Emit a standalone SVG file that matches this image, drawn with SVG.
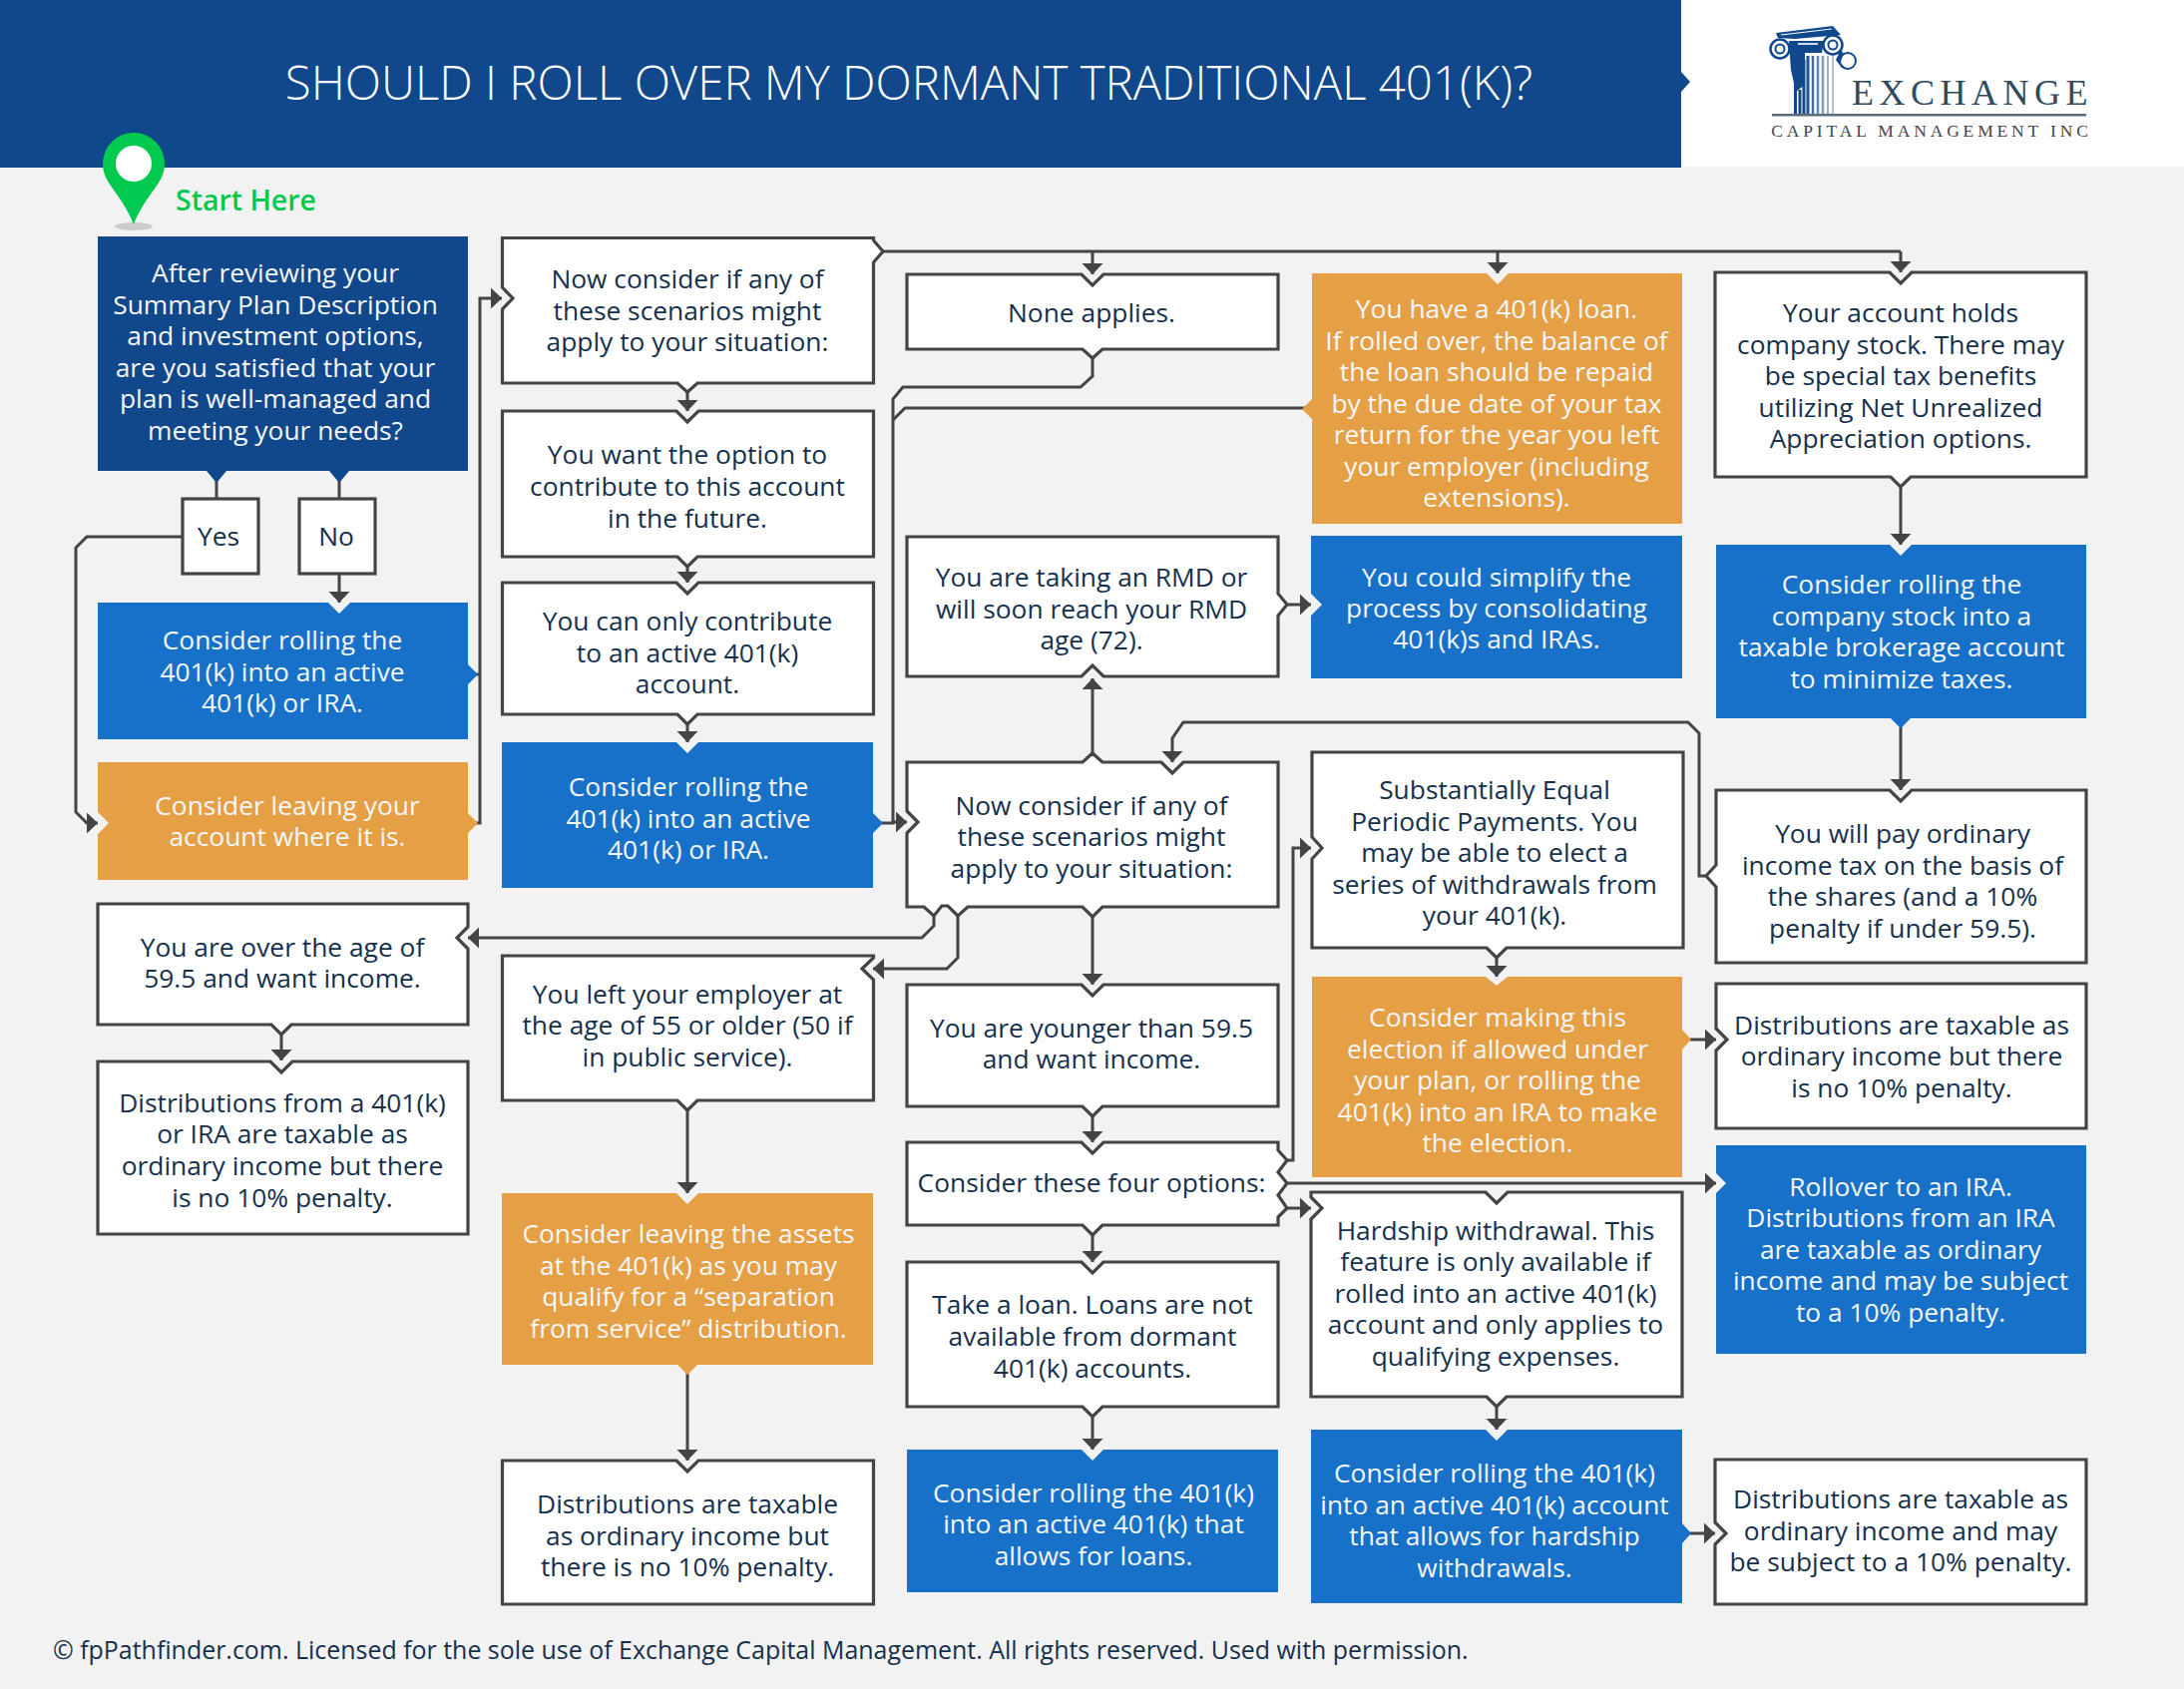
<svg xmlns="http://www.w3.org/2000/svg" width="2189" height="1693" viewBox="0 0 2189 1693">
<style>
text{font-family:"Open Sans","Noto Sans","Liberation Sans",sans-serif;font-size:26.35px;text-anchor:middle;fill:#15304d}
.w{fill:#fff;stroke:#444;stroke-width:3.2}
.b{fill:#1871c9}
.n{fill:#11478b}
.o{fill:#e5a046}
.c{fill:none;stroke:#444;stroke-width:3}
.a{marker-end:url(#ah)}
.t text,text.t{fill:#f5f7fa}
.sc{fill:none;stroke:#11478b}
</style>
<defs>
<marker id="ah" markerUnits="userSpaceOnUse" markerWidth="12" markerHeight="22" refX="11" refY="10.5" orient="auto"><path d="M0 0L11 10.5L0 21Z" fill="#444"/></marker>
</defs>
<rect width="2189" height="1693" fill="#f2f2f2"/>
<g id="header">
<rect x="1685" width="504" height="167" fill="#fff"/>
<path class="n" d="M0 0H1685V72L1694 82L1685 92V168H0Z"/>
<text x="911" y="100" style="font-size:47.4px;font-weight:300;fill:#fff">SHOULD I ROLL OVER MY DORMANT TRADITIONAL 401(K)?</text>
</g>
<g id="logo">
<path class="n" d="M1780 33L1837 26L1845 35L1799 39L1782 38Z"/>
<path d="M1785 35L1836 29" stroke="#fff" stroke-width="1" fill="none"/>
<circle class="sc" cx="1784" cy="49" r="9.500" stroke-width="2.500"/>
<circle class="sc" cx="1784" cy="49" r="4.500" stroke-width="2"/>
<circle class="sc" cx="1837" cy="45" r="9.500" stroke-width="2.500"/>
<circle class="sc" cx="1837" cy="45" r="4.500" stroke-width="2"/>
<circle class="sc" cx="1852" cy="61" r="8" stroke-width="2"/>
<path class="n" d="M1845 50L1848 54L1844 63L1851 69L1846 68L1840 60Z"/>
<path class="n" d="M1793 41H1828L1826 53H1809V85L1800 92L1795 70Z"/>
<path d="M1802 44H1822" stroke="#cfdcec" stroke-width="2" fill="none"/>
<path d="M1799.500 80V114M1804 90V114M1808 60V114" stroke="#11478b" stroke-width="3" fill="none"/>
<path d="M1812 56V114" stroke="#1d528f" stroke-width="3" fill="none"/>
<path d="M1817 56V114" stroke="#3f6ea5" stroke-width="2.500" fill="none"/>
<path d="M1822 56V114" stroke="#6488b3" stroke-width="2.500" fill="none"/>
<path d="M1827 56V114" stroke="#7f9cbe" stroke-width="2.500" fill="none"/>
<path d="M1832 56V114" stroke="#9cb1c9" stroke-width="2" fill="none"/>
<path d="M1837 56V114" stroke="#b4c3d4" stroke-width="2" fill="none"/>
<rect x="1776" y="114" width="315" height="2.500" fill="#5a6d78"/>
<text x="1977" y="105" style="font-family:'Liberation Serif',serif;font-size:36px;letter-spacing:5.5px;fill:#2f4a63">EXCHANGE</text>
<text x="1936" y="137" style="font-family:'Liberation Serif',serif;font-size:17.5px;letter-spacing:3.85px;fill:#3a4650">CAPITAL MANAGEMENT INC</text>
</g>
<g id="start">
<ellipse cx="134" cy="227" rx="19" ry="4" fill="#ccc"/>
<path d="M134 225C121 192 103 185 103 164A31 31 0 0 1 165 164C165 185 147 192 134 225Z" fill="#00c94f"/>
<circle cx="134" cy="164" r="18" fill="#fff"/>
<text x="176" y="211" style="font-size:28.5px;font-weight:600;text-anchor:start;fill:#00c94f">Start Here</text>
</g>
<g id="connectors">
<path class="c" d="M217 482V500"/>
<path class="c" d="M340 482V500"/>
<path class="c a" d="M340 575V604"/>
<path class="c a" d="M183 538H87L76 549V814L87 825H98"/>
<path class="c" d="M476 825H481V676M476 676H481"/>
<path class="c a" d="M481 676V299H503"/>
<path class="c" d="M884 252H1905"/>
<path class="c a" d="M1905 252V273"/>
<path class="c a" d="M1501 252V274"/>
<path class="c a" d="M1095 252V275"/>
<path class="c a" d="M689 392V412"/>
<path class="c a" d="M689 566V584"/>
<path class="c a" d="M689 724V744"/>
<path class="c a" d="M689 1111V1196"/>
<path class="c a" d="M689 1376V1464"/>
<path class="c" d="M1095 359V377L1083 388H905L895 400V824"/>
<path class="c" d="M1308 409H907L895 421"/>
<path class="c a" d="M882 825H895V824H909"/>
<path class="c a" d="M1095 755V680"/>
<path class="c a" d="M1095 917V987"/>
<path class="c a" d="M1095 1118V1145"/>
<path class="c a" d="M1095 1236V1265"/>
<path class="c a" d="M1095 1408V1453"/>
<path class="c a" d="M1288 606H1314"/>
<path class="c a" d="M1710 878H1703V735L1692 724H1186L1175 740V764"/>
<path class="c a" d="M936 917V928L924 940H469"/>
<path class="c a" d="M960 917V960L949 971H875"/>
<path class="c a" d="M1289 1163H1296V850H1314"/>
<path class="c a" d="M1289 1186H1720"/>
<path class="c a" d="M1289 1211H1314"/>
<path class="c a" d="M1500 958V979"/>
<path class="c a" d="M1694 1042H1720"/>
<path class="c a" d="M1500 1408V1433"/>
<path class="c a" d="M1694 1537H1719"/>
<path class="c a" d="M1905 486V546"/>
<path class="c a" d="M1905 728V792"/>
<path class="c a" d="M282 1035V1063"/>
</g>
<g id="n1" class="t"><path class="n" d="M98 237H469V472H350L340 484L330 472H227L217 484L207 472H98Z"/>
<text><tspan x="276" y="283">After reviewing your</tspan><tspan x="276" y="315">Summary Plan Description</tspan><tspan x="276" y="346">and investment options,</tspan><tspan x="276" y="378">are you satisfied that your</tspan><tspan x="276" y="409">plan is well-managed and</tspan><tspan x="276" y="441">meeting your needs?</tspan></text></g>
<g id="n2"><rect class="w" x="183" y="500" width="76" height="75"/><text x="219" y="547">Yes</text></g>
<g id="n3"><rect class="w" x="300" y="500" width="76" height="75"/><text x="337" y="547">No</text></g>
<g id="n4" class="t"><path class="b" d="M98 604H329L340 615L351 604H469V666L479 676L469 686V741H98Z"/>
<text><tspan x="283" y="651">Consider rolling the</tspan><tspan x="283" y="683">401(k) into an active</tspan><tspan x="283" y="714">401(k) or IRA.</tspan></text></g>
<g id="n5" class="t"><path class="o" d="M98 764H469V815L479 825L469 835V882H98V836L109 825L98 814Z"/>
<text><tspan x="288" y="817">Consider leaving your</tspan><tspan x="288" y="848">account where it is.</tspan></text></g>
<g id="n6"><path class="w" d="M98 906H469V929L458 940L469 951V1027H292L282 1037L272 1027H98Z"/>
<text><tspan x="283" y="959">You are over the age of</tspan><tspan x="283" y="990">59.5 and want income.</tspan></text></g>
<g id="n7"><path class="w" d="M98 1064H271L282 1075L293 1064H469V1237H98Z"/>
<text><tspan x="283" y="1115">Distributions from a 401(k)</tspan><tspan x="283" y="1146">or IRA are taxable as</tspan><tspan x="283" y="1178">ordinary income but there</tspan><tspan x="283" y="1210">is no 10% penalty.</tspan></text></g>
<g id="n8"><path class="w" d="M503.500 238.500H875.500V241L885 252L875.500 263V384H699L689 393L679 384H503.500V310L514 299L503.500 288Z"/>
<text><tspan x="689" y="289">Now consider if any of</tspan><tspan x="689" y="321">these scenarios might</tspan><tspan x="689" y="352">apply to your situation:</tspan></text></g>
<g id="n9"><path class="w" d="M503.500 412H678L689 423L700 412H875.500V558H699L689 568L679 558H503.500Z"/>
<text><tspan x="689" y="465">You want the option to</tspan><tspan x="689" y="497">contribute to this account</tspan><tspan x="689" y="529">in the future.</tspan></text></g>
<g id="n10"><path class="w" d="M503.500 584H678L689 595L700 584H875.500V716H699L689 726L679 716H503.500Z"/>
<text><tspan x="689" y="632">You can only contribute</tspan><tspan x="689" y="664">to an active 401(k)</tspan><tspan x="689" y="695">account.</tspan></text></g>
<g id="n11" class="t"><path class="b" d="M503 744H678L689 755L700 744H875V815L885 825L875 835V890H503Z"/>
<text><tspan x="690" y="798">Consider rolling the</tspan><tspan x="690" y="830">401(k) into an active</tspan><tspan x="690" y="861">401(k) or IRA.</tspan></text></g>
<g id="n12"><path class="w" d="M503.500 958H875.500V960L864 971L875.500 982V1103H699L689 1113L679 1103H503.500Z"/>
<text><tspan x="689" y="1006">You left your employer at</tspan><tspan x="689" y="1037">the age of 55 or older (50 if</tspan><tspan x="689" y="1069">in public service).</tspan></text></g>
<g id="n13" class="t"><path class="o" d="M503 1196H678L689 1207L700 1196H875V1368H699L689 1378L679 1368H503Z"/>
<text><tspan x="690" y="1246">Consider leaving the assets</tspan><tspan x="690" y="1278">at the 401(k) as you may</tspan><tspan x="690" y="1309">qualify for a “separation</tspan><tspan x="690" y="1341">from service” distribution.</tspan></text></g>
<g id="n14"><path class="w" d="M503.500 1464H678L689 1475L700 1464H875.500V1608H503.500Z"/>
<text><tspan x="689" y="1517">Distributions are taxable</tspan><tspan x="689" y="1549">as ordinary income but</tspan><tspan x="689" y="1580">there is no 10% penalty.</tspan></text></g>
<g id="n15"><path class="w" d="M909 275H1084L1095 286L1106 275H1281V350H1105L1095 359L1085 350H909Z"/>
<text x="1094" y="323">None applies.</text></g>
<g id="n16"><path class="w" d="M909 538H1281V595L1290 606L1281 617V678H1106L1095 667L1084 678H909Z"/>
<text><tspan x="1094" y="588">You are taking an RMD or</tspan><tspan x="1094" y="620">will soon reach your RMD</tspan><tspan x="1094" y="651">age (72).</tspan></text></g>
<g id="n17"><path class="w" d="M909 764H1085L1095 755L1105 764H1164L1175 775L1186 764H1281V909H1105L1095 919L1085 909H970L960 918L950 908H944L936 918L926 909H909V835L920 824L909 813Z"/>
<text><tspan x="1094" y="817">Now consider if any of</tspan><tspan x="1094" y="848">these scenarios might</tspan><tspan x="1094" y="880">apply to your situation:</tspan></text></g>
<g id="n18"><path class="w" d="M909 987H1084L1095 998L1106 987H1281V1109H1105L1095 1119L1085 1109H909Z"/>
<text><tspan x="1094" y="1040">You are younger than 59.5</tspan><tspan x="1094" y="1071">and want income.</tspan></text></g>
<g id="n19"><path class="w" d="M909 1145H1084L1095 1156L1106 1145H1281V1153L1290 1163L1281 1175L1290 1186L1281 1198L1290 1211L1281 1220V1228H1105L1095 1238L1085 1228H909Z"/>
<text x="1094" y="1195">Consider these four options:</text></g>
<g id="n20"><path class="w" d="M909 1265H1084L1095 1276L1106 1265H1281V1410H1105L1095 1420L1085 1410H909Z"/>
<text><tspan x="1095" y="1317">Take a loan. Loans are not</tspan><tspan x="1095" y="1349">available from dormant</tspan><tspan x="1095" y="1381">401(k) accounts.</tspan></text></g>
<g id="n21" class="t"><path class="b" d="M909 1453H1084L1095 1464L1106 1453H1281V1596H909Z"/>
<text><tspan x="1096" y="1506">Consider rolling the 401(k)</tspan><tspan x="1096" y="1537">into an active 401(k) that</tspan><tspan x="1096" y="1569">allows for loans.</tspan></text></g>
<g id="n22" class="t"><path class="o" d="M1315 274H1490L1501 285L1512 274H1686V525H1315V420L1305 410L1315 400Z"/>
<text><tspan x="1500" y="319">You have a 401(k) loan.</tspan><tspan x="1500" y="351">If rolled over, the balance of</tspan><tspan x="1500" y="382">the loan should be repaid</tspan><tspan x="1500" y="414">by the due date of your tax</tspan><tspan x="1500" y="445">return for the year you left</tspan><tspan x="1500" y="477">your employer (including</tspan><tspan x="1500" y="508">extensions).</tspan></text></g>
<g id="n23" class="t"><path class="b" d="M1314 537H1686V680H1314V617L1325 606L1314 595Z"/>
<text><tspan x="1500" y="588">You could simplify the</tspan><tspan x="1500" y="619">process by consolidating</tspan><tspan x="1500" y="650">401(k)s and IRAs.</tspan></text></g>
<g id="n24"><path class="w" d="M1315 754H1687V950H1510L1500 960L1490 950H1315V861L1325 850L1315 839Z"/>
<text><tspan x="1498" y="801">Substantially Equal</tspan><tspan x="1498" y="833">Periodic Payments. You</tspan><tspan x="1498" y="864">may be able to elect a</tspan><tspan x="1498" y="896">series of withdrawals from</tspan><tspan x="1498" y="927">your 401(k).</tspan></text></g>
<g id="n25" class="t"><path class="o" d="M1315 979H1489L1500 988L1511 979H1686V1032L1695 1042L1686 1052V1180H1315Z"/>
<text><tspan x="1501" y="1029">Consider making this</tspan><tspan x="1501" y="1061">election if allowed under</tspan><tspan x="1501" y="1092">your plan, or rolling the</tspan><tspan x="1501" y="1124">401(k) into an IRA to make</tspan><tspan x="1501" y="1155">the election.</tspan></text></g>
<g id="n26"><path class="w" d="M1314 1195H1489L1500 1206L1511 1195H1686V1400H1510L1500 1410L1490 1400H1314V1222L1325 1211L1314 1200Z"/>
<text><tspan x="1499" y="1243">Hardship withdrawal. This</tspan><tspan x="1499" y="1274">feature is only available if</tspan><tspan x="1499" y="1306">rolled into an active 401(k)</tspan><tspan x="1499" y="1337">account and only applies to</tspan><tspan x="1499" y="1369">qualifying expenses.</tspan></text></g>
<g id="n27" class="t"><path class="b" d="M1314 1433H1489L1500 1444L1511 1433H1686V1527L1695 1537L1686 1547V1607H1314Z"/>
<text><tspan x="1498" y="1486">Consider rolling the 401(k)</tspan><tspan x="1498" y="1518">into an active 401(k) account</tspan><tspan x="1498" y="1549">that allows for hardship</tspan><tspan x="1498" y="1581">withdrawals.</tspan></text></g>
<g id="n28"><path class="w" d="M1719 273H1894L1905 284L1916 273H2091V478H1915L1905 488L1895 478H1719Z"/>
<text><tspan x="1905" y="323">Your account holds</tspan><tspan x="1905" y="355">company stock. There may</tspan><tspan x="1905" y="386">be special tax benefits</tspan><tspan x="1905" y="418">utilizing Net Unrealized</tspan><tspan x="1905" y="449">Appreciation options.</tspan></text></g>
<g id="n29" class="t"><path class="b" d="M1720 546H1894L1905 557L1916 546H2091V720H1915L1905 730L1895 720H1720Z"/>
<text><tspan x="1906" y="595">Consider rolling the</tspan><tspan x="1906" y="627">company stock into a</tspan><tspan x="1906" y="658">taxable brokerage account</tspan><tspan x="1906" y="690">to minimize taxes.</tspan></text></g>
<g id="n30"><path class="w" d="M1720 792H1894L1905 803L1916 792H2091V965H1720V889L1710 878L1720 867Z"/>
<text><tspan x="1907" y="845">You will pay ordinary</tspan><tspan x="1907" y="877">income tax on the basis of</tspan><tspan x="1907" y="908">the shares (and a 10%</tspan><tspan x="1907" y="940">penalty if under 59.5).</tspan></text></g>
<g id="n31"><path class="w" d="M1720 986H2091V1131H1720V1053L1731 1042L1720 1031Z"/>
<text><tspan x="1906" y="1037">Distributions are taxable as</tspan><tspan x="1906" y="1068">ordinary income but there</tspan><tspan x="1906" y="1100">is no 10% penalty.</tspan></text></g>
<g id="n32" class="t"><path class="b" d="M1720 1148H2091V1357H1720V1196L1730 1186L1720 1176Z"/>
<text><tspan x="1905" y="1199">Rollover to an IRA.</tspan><tspan x="1905" y="1230">Distributions from an IRA</tspan><tspan x="1905" y="1262">are taxable as ordinary</tspan><tspan x="1905" y="1293">income and may be subject</tspan><tspan x="1905" y="1325">to a 10% penalty.</tspan></text></g>
<g id="n33"><path class="w" d="M1719 1463H2091V1608H1719V1548L1730 1537L1719 1526Z"/>
<text><tspan x="1905" y="1512">Distributions are taxable as</tspan><tspan x="1905" y="1544">ordinary income and may</tspan><tspan x="1905" y="1575">be subject to a 10% penalty.</tspan></text></g>
<text id="footer" x="53" y="1663" style="text-anchor:start;font-size:24.95px">© fpPathfinder.com. Licensed for the sole use of Exchange Capital Management. All rights reserved. Used with permission.</text>
</svg>
